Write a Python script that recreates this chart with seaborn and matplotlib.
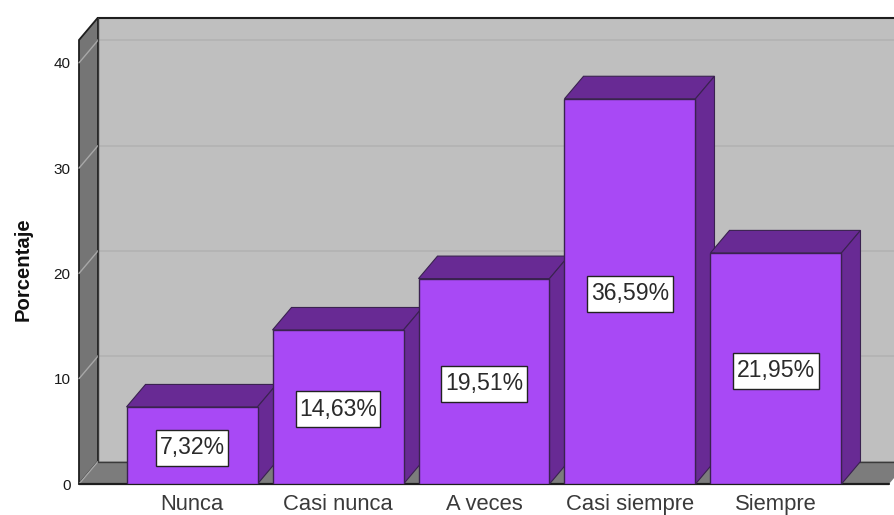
import matplotlib
matplotlib.use("Agg")
import matplotlib.pyplot as plt
from matplotlib.patches import Polygon
from matplotlib.path import Path
import pandas as pd
import seaborn as sns

categories = ["Nunca", "Casi nunca", "A veces", "Casi siempre", "Siempre"]
percentages = [7.32, 14.63, 19.51, 36.59, 21.95]
value_labels = ["7,32%", "14,63%", "19,51%", "36,59%", "21,95%"]
y_ticks = [0, 10, 20, 30, 40]

FRONT = "#A849F5"
DEPTH = "#682A94"
EDGE = "#3A2250"
BACK = "#BFBFBF"
WALL = "#757575"
FLOOR = "#7C7C7C"
LINE = "#1E1E1E"

sns.set_theme(style="white")
plt.rcParams["font.family"] = ["Liberation Sans", "DejaVu Sans"]

W, H = 894, 515
fig = plt.figure(figsize=(W / 100, H / 100), dpi=100, facecolor="white")
ax = fig.add_axes([79 / W, 1 - 484 / H, 810 / W, 444 / H])
ax.patch.set_visible(False)

df = pd.DataFrame({"categoria": categories, "porcentaje": percentages})
sns.barplot(data=df, x="categoria", y="porcentaje", order=categories,
            color=FRONT, saturation=1, width=131 / 146, ax=ax,
            edgecolor=EDGE, linewidth=1.0)

xmin, xmax = -0.774, 4.774
ymax = 42.17
ax.set_xlim(xmin, xmax)
ax.set_ylim(0, ymax)
dx, dy = 19 / 146, 22.5 / 10.53


def poly(pts, fc, ec="none", lw=0.0, z=1):
    ax.add_patch(Polygon(pts, closed=True, facecolor=fc, edgecolor=ec,
                         linewidth=lw, zorder=z, clip_on=False))


def label_box(x0, y0, width, height, mutation_size):
    """Square label box with a narrow side margin and a taller top/bottom margin."""
    px, py = 3.5, 6.5
    l, b, r, t = x0 - px, y0 - py, x0 + width + px, y0 + height + py
    return Path([(l, b), (r, b), (r, t), (l, t), (l, b)],
                [Path.MOVETO, Path.LINETO, Path.LINETO, Path.LINETO, Path.CLOSEPOLY])


# Back wall, left wall, floor
xr = xmax + dx
poly([(xmin + dx, dy), (xr, dy), (xr, ymax + dy), (xmin + dx, ymax + dy)], BACK, z=0.5)
poly([(xmin, 0), (xmin + dx, dy), (xmin + dx, ymax + dy), (xmin, ymax)], WALL, LINE, 1.3, z=0.6)
poly([(xmin, 0), (xmax, 0), (xmax + dx, dy), (xmin + dx, dy)], FLOOR, z=0.6)

for v in y_ticks[1:]:
    ax.plot([xmin + dx, xr], [v + dy, v + dy], color="#B2B2B2", lw=1.2, zorder=0.7, clip_on=False)
for v in y_ticks:
    ax.plot([xmin, xmin + dx], [v, v + dy], color="#A8A8A8", lw=1.0, zorder=0.8, clip_on=False)

ax.plot([xmin + dx, xr], [ymax + dy, ymax + dy], color=LINE, lw=1.5, zorder=0.9, clip_on=False)
ax.plot([xmin + dx, xmin + dx, xr], [ymax + dy, dy, dy], color="#3A3A3A", lw=1.0, zorder=0.9, clip_on=False)
ax.plot([xmin, xmax], [0, 0], color=LINE, lw=1.6, zorder=1.5, clip_on=False)

# Extruded bars, painted left to right so each front covers the previous side
for i, (bar, lab) in enumerate(zip(ax.patches[:len(categories)], value_labels)):
    x0, x1 = bar.get_x(), bar.get_x() + bar.get_width()
    h = bar.get_height()
    base = 2 + i * 2
    poly([(x0, h), (x1, h), (x1 + dx, h + dy), (x0 + dx, h + dy)], DEPTH, EDGE, 0.8, z=base)
    poly([(x1, 0), (x1 + dx, dy), (x1 + dx, h + dy), (x1, h)], DEPTH, EDGE, 0.8, z=base)
    bar.set_zorder(base + 1)
    ax.text((x0 + x1) / 2, h / 2, lab, ha="center", va="center_baseline", fontsize=16.6,
            color="#2A2A2A", zorder=30,
            bbox=dict(boxstyle=label_box, facecolor="white",
                      edgecolor="#222222", linewidth=1.0))

ax.set_yticks(y_ticks)
ax.set_yticklabels([str(v) for v in y_ticks], fontsize=11, color="#1A1A1A")
ax.tick_params(axis="y", length=0, pad=6)
ax.set_xticks(range(len(categories)))
ax.set_xticklabels(categories, fontsize=15.8, color="#3A3A3A", va="baseline")
ax.tick_params(axis="x", length=0, pad=18.6)
ax.set_xlabel("")
ax.set_ylabel("")
sns.despine(ax=ax, left=True, bottom=True, top=True, right=True)
fig.text(23 / W, 1 - 269 / H, "Porcentaje", rotation=90, ha="center", va="center",
         fontsize=14.6, fontweight="bold", color="#111111")

fig.savefig("out.png", dpi=100)
